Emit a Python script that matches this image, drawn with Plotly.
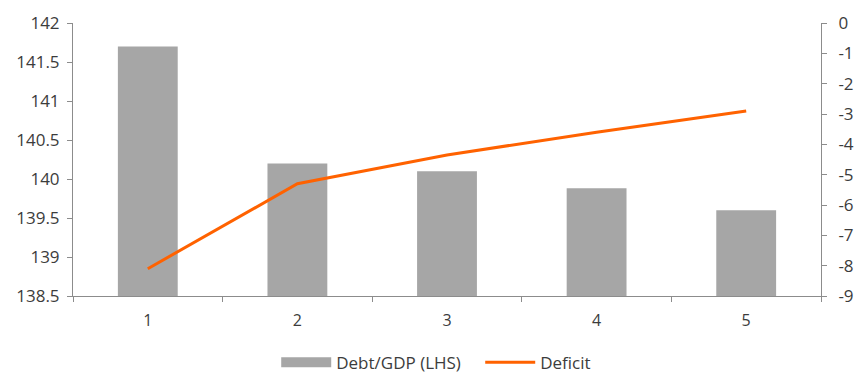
import plotly.graph_objects as go

categories = ["1", "2", "3", "4", "5"]
debt_gdp = [141.7, 140.2, 140.1, 139.88, 139.6]
deficit = [-8.1, -5.3, -4.35, -3.6, -2.9]
left_ticks = [138.5, 139, 139.5, 140, 140.5, 141, 141.5, 142]
left_tick_labels = ["138.5", "139", "139.5", "140", "140.5", "141", "141.5", "142"]
right_ticks = [0, -1, -2, -3, -4, -5, -6, -7, -8, -9]
right_tick_labels = ["0", "-1", "-2", "-3", "-4", "-5", "-6", "-7", "-8", "-9"]

FONT = "Open Sans"
TXT = "#3c3c3c"
AX = "#8c8c8c"
BAR = "#a6a6a6"
ORANGE = "#ff6200"

fig = go.Figure()
fig.add_trace(go.Bar(x=categories, y=debt_gdp, name="Debt/GDP (LHS)",
                     marker=dict(color=BAR, line=dict(width=0)),
                     width=0.4, yaxis="y", showlegend=False))
# legend-only swatch for the bars (wide rectangle as in the reference)
fig.add_trace(go.Scatter(x=[None], y=[None], name="Debt/GDP (LHS)", mode="lines",
                         line=dict(color=BAR, width=12), yaxis="y"))
fig.add_trace(go.Scatter(x=categories, y=deficit, name="Deficit", mode="lines",
                         line=dict(color=ORANGE, width=3), yaxis="y2"))

fig.update_layout(
    width=856, height=374,
    margin=dict(l=73, r=35, t=23, b=78),
    plot_bgcolor="white", paper_bgcolor="white",
    font=dict(family=FONT, size=16, color=TXT),
    showlegend=True,
    legend=dict(orientation="h", x=0.561, xanchor="center", xref="container",
                y=0.03, yanchor="middle", yref="container", itemwidth=50,
                entrywidth=139, entrywidthmode="pixels",
                font=dict(size=17, color=TXT), traceorder="normal"),
    xaxis=dict(type="category", tickson="boundaries", ticks="outside", ticklen=5,
               tickcolor=AX, showline=True, linecolor=AX, linewidth=1,
               showgrid=False, zeroline=False, ticklabelstandoff=10,
               tickfont=dict(size=16, color=TXT)),
    yaxis=dict(range=[138.5, 142], tickvals=left_ticks, ticktext=left_tick_labels,
               ticks="outside", ticklen=5, tickcolor=AX, showline=True,
               linecolor=AX, linewidth=1, showgrid=False, zeroline=False,
               automargin=False,
               ticklabelstandoff=4, tickfont=dict(size=17, color=TXT)),
    yaxis2=dict(range=[-9, 0], tickvals=right_ticks, ticktext=right_tick_labels,
                overlaying="y", side="right", ticks="outside", ticklen=5,
                tickcolor=AX, showline=True, linecolor=AX, linewidth=1,
                showgrid=False, zeroline=False, ticklabelstandoff=8,
                automargin=False,
                tickfont=dict(size=17, color=TXT)),
)

fig.write_html("out.html")
